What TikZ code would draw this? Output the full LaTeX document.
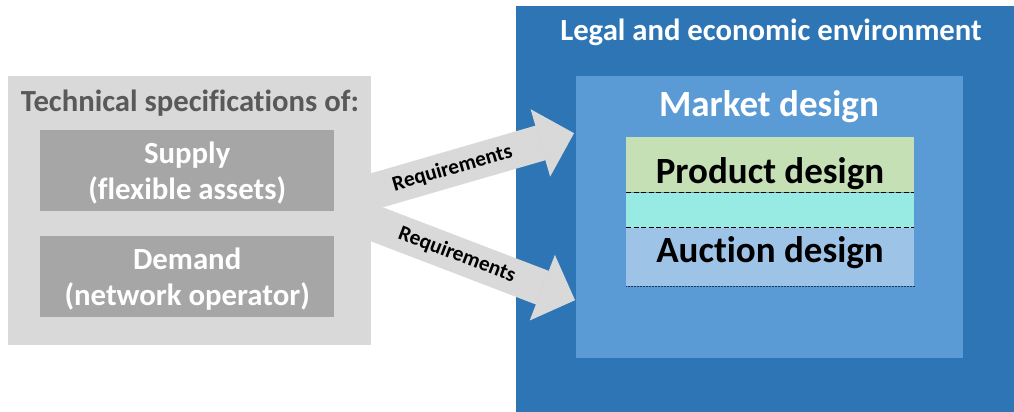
\documentclass[tikz,border=0pt]{standalone}
\usepackage{fontspec}
\setmainfont{Carlito}[Ligatures=NoCommon]
\usetikzlibrary{positioning, arrows.meta}

\definecolor{envblue}{HTML}{2E75B6}
\definecolor{mktblue}{HTML}{5B9BD5}
\definecolor{prodgreen}{HTML}{C5E0B4}
\definecolor{gapcyan}{HTML}{98EBE2}
\definecolor{auctblue}{HTML}{9DC3E6}
\definecolor{specgray}{HTML}{D9D9D9}
\definecolor{sidegray}{HTML}{A6A6A6}
\definecolor{titlegray}{HTML}{595959}

\tikzset{
  panel/.style={rectangle, inner sep=0pt, anchor=north west},
  heading/.style={font=\bfseries\fontsize{30.7}{36}\selectfont, anchor=base, inner sep=0pt},
  side/.style={panel, fill=sidegray, minimum width=294pt, minimum height=81pt,
    text=white, align=center, text depth=0pt, font=\bfseries\fontsize{30.8}{36}\selectfont},
  layer/.style={panel, minimum width=288pt},
  big/.style={font=\bfseries\fontsize{37}{44}\selectfont, anchor=base, inner sep=0pt},
  req/.style={draw=specgray, line width=36pt,
    -{Triangle[width=70pt, length=35pt, line width=1pt]}, shorten <=-14pt},
  reqlabel/.style={sloped, font=\bfseries\fontsize{21.3}{25}\selectfont},
}

\begin{document}
\begin{tikzpicture}[x=1pt, y=-1pt]
    \useasboundingbox (0,0) rectangle (1014,412);

    % right side: environment and market
    \node (env) [panel, fill=envblue, minimum width=498pt, minimum height=406pt] at (516,6) {};
    \node (market) [panel, fill=mktblue, minimum width=387pt, minimum height=282pt] at (576,76) {};
    \node (product) [layer, fill=prodgreen, minimum height=55pt] at (626,137) {};
    \node (overlap) [layer, fill=gapcyan, minimum height=35pt, below=0pt of product.south west, anchor=north west] {};
    \node (auction) [layer, fill=auctblue, minimum height=58pt, below=0pt of overlap.south west, anchor=north west] {};
    \draw[black, line width=0.9pt, dash pattern=on 5pt off 2.5pt] (product.south west) -- (product.south east);
    \draw[black, line width=0.9pt, dash pattern=on 5pt off 2.5pt] (overlap.south west) -- (overlap.south east);
    \draw[envblue!50!black, line width=0.5pt, densely dotted] (auction.south west) -- (auction.south east);

    \node (envtitle) [heading, text=white] at (771,41) {Legal and economic environment};
    \node (mkttitle) [big, text=white] at (769,116) {Market design};
    \node (prodtext) [big] at (770,183) {Product design};
    \node (aucttext) [big] at (770,262) {Auction design};

    % left side: technical specifications
    \node (spec) [panel, fill=specgray, minimum width=363pt, minimum height=269pt] at (8,76) {};
    \node (spectitle) [heading, text=titlegray] at (190,111) {Technical specifications of:};
    \node (supply) [side] at (40,130) {Supply\\(flexible assets)};
    \node (demand) [side] at (40,236) {Demand\\(network operator)};

    % requirements
    \draw[req] ([yshift=18.8pt]spec.east) -- ([xshift=-2pt, yshift=84pt]market.west)
        node [reqlabel, pos=0.4] {Requirements};
    \draw[req] ([yshift=-11.5pt]spec.east) -- ([xshift=-1pt, yshift=-83pt]market.west)
        node [reqlabel, pos=0.42] {Requirements};
\end{tikzpicture}
\end{document}
